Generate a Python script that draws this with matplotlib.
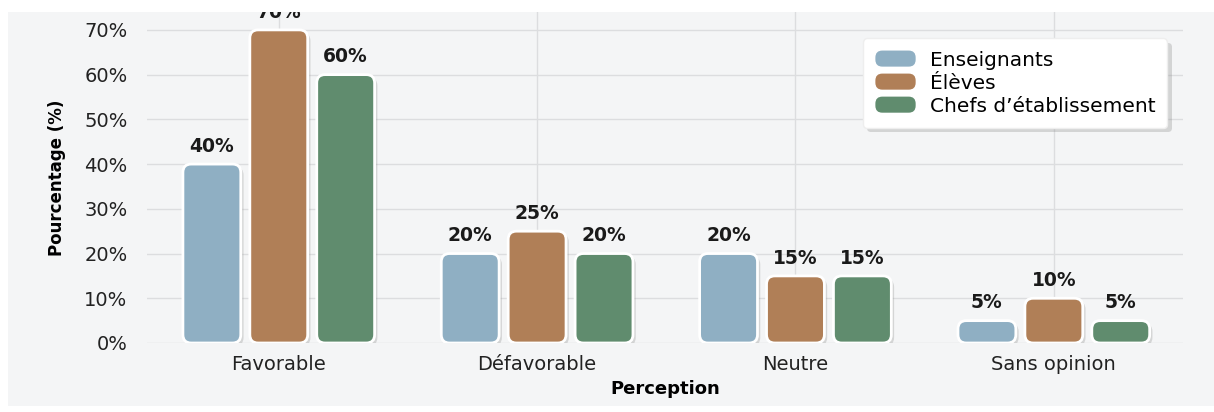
import numpy as np
import matplotlib
matplotlib.use("Agg")
import matplotlib.pyplot as plt
from matplotlib.patches import FancyBboxPatch, Rectangle
from matplotlib.legend_handler import HandlerPatch
import matplotlib.patheffects as pe

categories = ["Favorable", "Défavorable", "Neutre", "Sans opinion"]
groups = ["Enseignants", "Élèves", "Chefs d’établissement"]
enseignants = [40, 20, 20, 5]
eleves = [70, 25, 15, 10]
chefs = [60, 20, 15, 5]
colors = ["#8fafc3", "#b07f57", "#608c6e"]
yticks = [0, 10, 20, 30, 40, 50, 60, 70]

plt.rcParams["font.family"] = ["DejaVu Sans"]

fig = plt.figure(figsize=(12.14, 4.12), dpi=100, facecolor="white")
# light grey card behind the chart
fig.add_artist(Rectangle((8 / 1214, 6 / 412), 1 - 8 / 1214, 1 - 18 / 412,
                         transform=fig.transFigure, facecolor="#f4f5f6",
                         edgecolor="none", zorder=-5))

ax = fig.add_axes([147 / 1214, 69 / 412, (1183 - 147) / 1214, (343 - 12) / 412])
ax.set_facecolor("none")

x = np.arange(len(categories))
width = 0.224
step = 0.259
series = [enseignants, eleves, chefs]

shadow = [pe.SimplePatchShadow(offset=(2, -2), shadow_rgbFace="#9a9a9a", alpha=0.35),
          pe.Normal()]

for i, (vals, col) in enumerate(zip(series, colors)):
    bars = ax.bar(x + (i - 1) * step, vals, width, color=col, alpha=0)
    for b, v in zip(bars, vals):
        box = FancyBboxPatch((b.get_x(), b.get_y()), b.get_width(), b.get_height(),
                             boxstyle="round,pad=0,rounding_size=0.032",
                             mutation_aspect=58.0, facecolor=col,
                             edgecolor="white", linewidth=2, zorder=3)
        box.set_path_effects(shadow)
        ax.add_patch(box)
        ax.annotate(f"{v}%", (b.get_x() + b.get_width() / 2, v),
                    xytext=(0, 6), textcoords="offset points",
                    ha="center", va="bottom", fontsize=13.5,
                    fontweight="bold", color="#1a1a1a", zorder=4)

ax.set_xlim(-0.51, 3.5)
ax.set_ylim(0, 74)
ax.set_yticks(yticks)
ax.set_yticklabels([f"{t}%" for t in yticks], fontsize=14, color="#222222")
ax.set_xticks(x)
ax.set_xticklabels(categories, fontsize=14, color="#222222")
ax.tick_params(length=0)
ax.tick_params(axis="y", pad=14)
ax.tick_params(axis="x", pad=9)
ax.grid(True, color="#dcdddf", linewidth=1, zorder=0)
ax.set_axisbelow(True)
for s in ax.spines.values():
    s.set_visible(False)

ax.set_xlabel("Perception", fontsize=13, fontweight="bold", labelpad=4)
ax.set_ylabel("Pourcentage (%)", fontsize=12, fontweight="bold", labelpad=13)


class RoundHandler(HandlerPatch):
    def create_artists(self, legend, orig_handle, xdescent, ydescent, width,
                       height, fontsize, trans):
        p = FancyBboxPatch((-xdescent, -ydescent), width, height,
                           boxstyle="round,pad=0,rounding_size=5",
                           facecolor=orig_handle.get_facecolor(),
                           edgecolor="none", transform=trans)
        return [p]


handles = [Rectangle((0, 0), 1, 1, facecolor=c) for c in colors]
leg = ax.legend(handles, groups, loc="upper right", bbox_to_anchor=(0.985, 0.92),
                borderaxespad=0, fontsize=14.5, frameon=True, fancybox=True,
                shadow=False, handlelength=2.0, handleheight=0.85,
                handletextpad=0.7, labelspacing=0.2, borderpad=0.6,
                handler_map={Rectangle: RoundHandler()})
frame = leg.get_frame()
frame.set_facecolor("white")
frame.set_edgecolor("#eeeeee")
frame.set_alpha(1)
frame.set_path_effects([pe.SimplePatchShadow(offset=(3, -3), shadow_rgbFace="#888888",
                                             alpha=0.3), pe.Normal()])
leg.set_zorder(5)

# white strip along the top edge
fig.add_artist(Rectangle((0, 1 - 12 / 412), 1, 12 / 412, transform=fig.transFigure,
                         facecolor="white", edgecolor="none", zorder=10))

fig.savefig("out.png", dpi=100, facecolor="white")
